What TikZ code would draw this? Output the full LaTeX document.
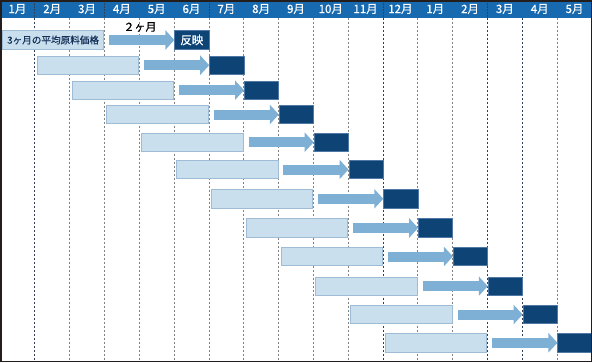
\documentclass[tikz,border=0pt]{standalone}
\usepackage{fontspec}
\newfontfamily\jp[FakeBold=0.6]{Noto Sans CJK JP}
\usetikzlibrary{arrows.meta}
\definecolor{headblue}{RGB}{24,106,176}
\definecolor{framecol}{RGB}{35,30,28}
\definecolor{lightfill}{RGB}{201,223,238}
\definecolor{lightedge}{RGB}{158,188,213}
\definecolor{arrowcol}{RGB}{126,176,214}
\definecolor{darkfill}{RGB}{14,67,117}
\definecolor{darkedge}{RGB}{80,120,165}
\definecolor{gridgray}{RGB}{130,130,130}
\definecolor{gridnavy}{RGB}{45,65,95}
\definecolor{labeltext}{RGB}{22,50,88}
\tikzset{
  lightbox/.style={draw=lightedge, line width=0.9pt, fill=lightfill, minimum height=18.5pt, inner sep=0pt, anchor=west},
  darkbox/.style={draw=darkedge, line width=0.6pt, fill=darkfill, minimum height=18.5pt, minimum width=34.3pt, inner sep=0pt, anchor=west},
  arr/.style={draw=arrowcol, line width=10pt, -{Triangle[length=9pt,width=19pt]}},
  headlab/.style={text=white, font=\jp\fontsize{11.5}{13}\selectfont, inner sep=0pt},
  gridline/.style={gridgray, line width=0.8pt, dash pattern=on 2pt off 2pt},
  gridline2/.style={gridnavy, line width=0.8pt, dash pattern=on 2pt off 2pt},
}
\begin{document}
\begin{tikzpicture}[x=1pt,y=-1pt]
\def\cw{34.82}
\useasboundingbox (0,0) rectangle (592,362);
% header
\fill[headblue] (0,0) rectangle (592,17.5);
% grid lines
\foreach \i in {2,3,4,5,6,7,8,9,10,12,13,16}
  \draw[gridline] ({\i*\cw},17.5) -- ({\i*\cw},361);
\foreach \i in {1,11,14,15}
  \draw[gridline2] ({\i*\cw},17.5) -- ({\i*\cw},361);
\foreach \i in {1,3,6,11,14}
  \draw[gridnavy, line width=0.8pt, dash pattern=on 1.5pt off 1.5pt] ({\i*\cw},0) -- ({\i*\cw},17.5);
% month labels
\foreach \i/\m in {0/1月,1/2月,2/3月,3/4月,4/5月,5/6月,6/7月,7/8月,8/9月,9/10月,10/11月,11/12月,12/1月,13/2月,14/3月,15/4月,16/5月}
  \node[headlab] (h\i) at ({(\i+0.5)*\cw},9) {\m};
% row 1
\node[lightbox, minimum width={3*\cw-3}, text=labeltext, font=\jp\fontsize{9.6}{11}\selectfont] (l1) at (2,40) {3ヶ月の平均原料価格};
\node[darkbox, text=white, font=\jp\fontsize{11.5}{13}\selectfont] (d1) at ({5*\cw+0.3},40) {反映};
\draw[arr] ([xshift=5pt]l1.east) -- (d1.west);
\node[inner sep=0pt, font=\jp\fontsize{11}{13}\selectfont] (t2m) at (140,27) {２ヶ月};
% other rows
\foreach \r/\yc in {2/65.2,3/90.2,4/114.5,5/142.2,6/169.5,7/198.8,8/228,9/256.5,10/286.2,11/314.5,12/342.8}{
  \node[lightbox, minimum width={3*\cw-3}] (l\r) at ({(\r-1)*\cw+2},\yc) {};
  \node[darkbox] (d\r) at ({(\r+4)*\cw+0.3},\yc) {};
  \draw[arr] ([xshift=5pt]l\r.east) -- (d\r.west);
}
% frame
\draw[framecol, line width=1.5pt] (0.75,0.75) rectangle (591.25,361.25);
\end{tikzpicture}
\end{document}
